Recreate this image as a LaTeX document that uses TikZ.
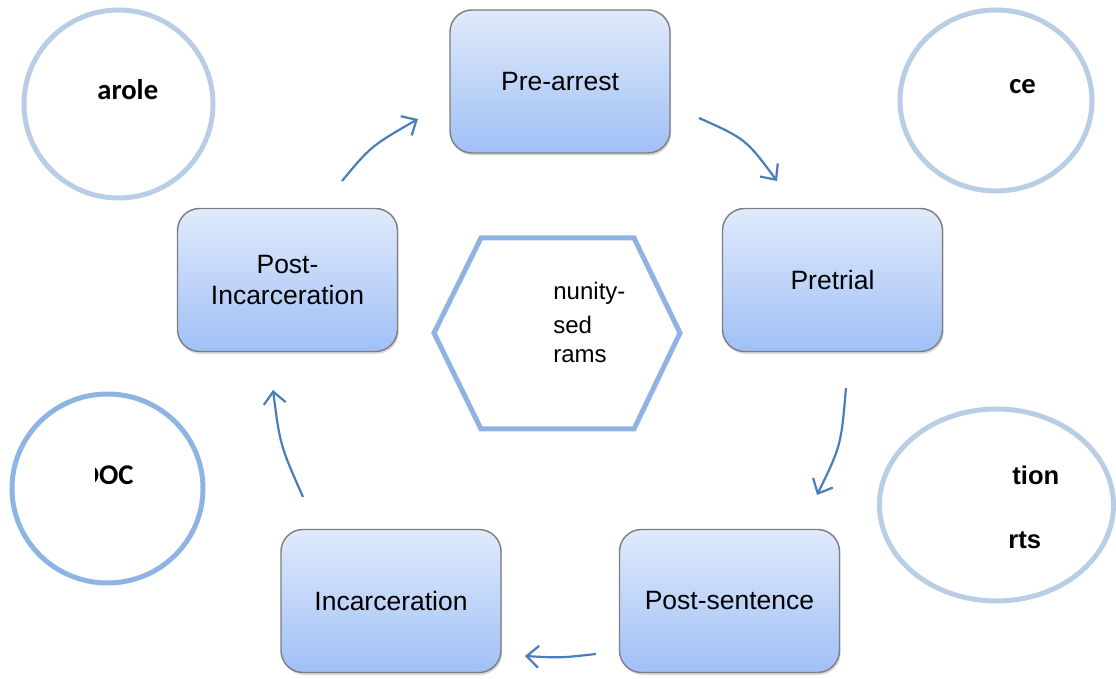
\documentclass[tikz,border=0pt]{standalone}
\usepackage{fontspec}
\setmainfont{Liberation Sans}
\newfontfamily\calibri{Carlito}
\usetikzlibrary{shapes.geometric,arrows.meta,shadows,bending}
\definecolor{boxtop}{RGB}{224,234,251}
\definecolor{boxbot}{RGB}{160,192,246}
\definecolor{boxline}{RGB}{125,125,130}
\definecolor{ringlight}{RGB}{185,205,229}
\definecolor{ringdark}{RGB}{142,180,227}
\definecolor{arrowblue}{RGB}{74,126,187}
\begin{document}
\begin{tikzpicture}[x=0.5pt,y=-0.5pt,
  stage/.style={rectangle, rounded corners=11pt, draw=boxline, line width=0.7pt,
    top color=boxtop, bottom color=boxbot, minimum width=110pt, minimum height=71.5pt,
    align=center, font=\fontsize{13.25}{15.5}\selectfont,
    drop shadow={opacity=0.3,shadow xshift=0.6pt,shadow yshift=-1.2pt}},
  ring/.style={ellipse, draw=ringlight, line width=2.5pt, inner sep=0pt},
  flow/.style={draw=arrowblue, line width=1.1pt, -{Straight Barb[length=6pt,width=11pt,flex]}},
  ringtext/.style={font=\calibri\bfseries\fontsize{14.3}{16}\selectfont, inner sep=0pt, anchor=west},
  ringtextb/.style={font=\bfseries\fontsize{12.8}{15}\selectfont, inner sep=0pt, anchor=west},
  hextext/.style={font=\fontsize{12}{14}\selectfont, inner sep=0pt, anchor=west}
]
\useasboundingbox (0,0) rectangle (1116,679);

% side circles
\node[ring, minimum width=94.5pt, minimum height=94pt] (parole) at (118.5,104) {};
\node[ring, minimum width=96pt, minimum height=90.5pt] (police) at (996,100.5) {};
\node[ring, draw=ringdark, minimum width=95.5pt, minimum height=94.5pt] (doc) at (107.5,488.5) {};
\node[ring, minimum width=117pt, minimum height=96pt] (courts) at (996.5,505) {};

\node[ringtext] (tparole) at (97,90) {arole};
\node[ringtext] (tpolice) at (1009,87) {ce};
\begin{scope}
  \clip (95,440) rectangle (200,510);
  \node[ringtext, anchor=east] (tdoc) at (134,475) {DOC};
\end{scope}
\node[ringtextb] (tcourts1) at (1012,475) {tion};
\node[ringtextb] (tcourts2) at (1008,540) {rts};

% central hexagon
\coordinate (h1) at (434,333);
\coordinate (h2) at (481,238);
\coordinate (h3) at (634,238);
\coordinate (h4) at (680,333);
\coordinate (h5) at (634,429);
\coordinate (h6) at (481,429);
\draw[draw=ringdark, line width=2.5pt, line join=miter] (h1) -- (h2) -- (h3) -- (h4) -- (h5) -- (h6) -- cycle;
\node[hextext] (hx1) at (553,293) {nunity-};
\node[hextext] (hx2) at (553,325) {sed};
\node[hextext] (hx3) at (553,356) {rams};

% stage boxes
\node[stage] (prearrest) at (560,81.5) {Pre-arrest};
\node[stage] (pretrial) at (832.5,280) {Pretrial};
\node[stage] (postsent) at (729.5,601) {Post-sentence};
\node[stage] (incarc) at (391,601) {Incarceration};
\node[stage] (postinc) at (287.5,280) {Post-\\Incarceration};

% arrows
\coordinate (a1s) at (342,181); \coordinate (a1e) at (418,119);
\coordinate (a2s) at (699,118); \coordinate (a2e) at (777,181);
\coordinate (a3s) at (846,388); \coordinate (a3e) at (817,495);
\coordinate (a4s) at (596,654); \coordinate (a4e) at (525,656);
\coordinate (a5s) at (303,497); \coordinate (a5e) at (273,390);
\draw[flow] (a1s) .. controls (371,146) .. (a1e);
\draw[flow] (a2s) .. controls (746,139) .. (a2e);
\draw[flow] (a3s) .. controls (841,446) .. (a3e);
\draw[flow] (a4s) .. controls (560,658) .. (a4e);
\draw[flow] (a5s) .. controls (280,445) .. (a5e);
\end{tikzpicture}
\end{document}
